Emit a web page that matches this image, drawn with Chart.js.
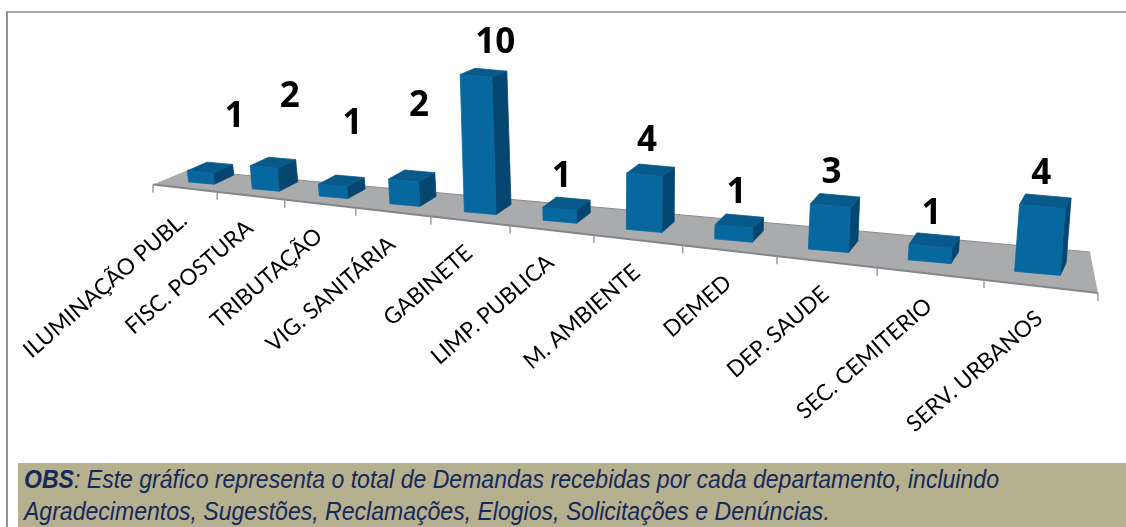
<!DOCTYPE html>
<html>
<head>
<meta charset="utf-8">
<script src="https://cdn.jsdelivr.net/npm/chart.js@4"></script>
<style>
html,body{margin:0;padding:0;background:#fff;width:1126px;height:527px;overflow:hidden}
#wrap{position:relative;width:1126px;height:527px}
#frame{position:absolute;left:6px;top:11px;width:1120px;height:516px;border-left:2px solid #8f9391;border-top:2px solid #a5a8a6;box-sizing:border-box}
canvas{position:absolute;left:0;top:0}
#obs{position:absolute;left:18px;top:463px;width:1108px;height:64px;background:#b5b08e;overflow:hidden}
#obs div{position:absolute;left:6px;top:1px;color:#15295a;font:italic 23.05px/29.7px "Liberation Sans",Arial,sans-serif;white-space:nowrap;transform:scaleY(1.08);transform-origin:0 0}
</style>
</head>
<body>
<div id="wrap">
<div id="frame"></div>
<canvas id="c" width="1126" height="527"></canvas>
<div id="obs"><div><b>OBS</b>: Este gráfico representa o total de Demandas recebidas por cada departamento, incluindo<br>Agradecimentos, Sugestões, Reclamações, Elogios, Solicitações e Denúncias.</div></div>
</div>
<script>
const categories = ["ILUMINAÇÃO PUBL.","FISC. POSTURA","TRIBUTAÇÃO","VIG. SANITÁRIA","GABINETE","LIMP. PUBLICA","M. AMBIENTE","DEMED","DEP. SAUDE","SEC. CEMITERIO","SERV. URBANOS"];
const demandas = [1,2,1,2,10,1,4,1,3,1,4];

// hand-placed data-label nudges of the original (relative to each column)
const labelNudgeX = [33,24,19,14,15,2,3,3,3,2,4];
const labelLift = [46,61,52,65,27,22,25,23,22,21,22];

const K = 0.372;
const warp = d => d / (1 + K * (1 - d));
const FRONT = {x0:153, y0:184.5, x1:1098, y1:293};
const BACK = {x0:188, y0:170, x1:1090, y1:252};
const lerp = (a,b,t) => a + (b-a)*t;
const edge = (E,t) => ({x:lerp(E.x0,E.x1,t), y:lerp(E.y0,E.y1,t)});

class PerspectiveScale extends Chart.CategoryScale {
  getPixelForDecimal(d){ return this._startPixel + this._length * warp(d); }
  _computeLabelArea(){ return undefined; }
  _computeLabelItems(area){
    const items = super._computeLabelItems(area);
    items.forEach(it=>{
      const [x] = it.options.translation;
      const t = (x - this.left)/(this.right - this.left);
      it.textOffset = 0;
      it.options.textAlign = 'right';
      it.options.textBaseline = 'middle';
      it.options.translation = [x + 8, edge(FRONT,t).y + 30];
    });
    return items;
  }
}
PerspectiveScale.id = 'perspective';
PerspectiveScale.defaults = Chart.CategoryScale.defaults;

function columnGeometry(chart, el, i){
  const xs = chart.scales.x, ys = chart.scales.y;
  const n = categories.length;
  const cw = xs.getPixelForDecimal((i+1)/n) - xs.getPixelForDecimal(i/n);
  const t = (el.x - xs.left)/(xs.right - xs.left);
  const f = edge(FRONT,t), b = edge(BACK,t);
  const cx = lerp(f.x,b.x,0.5), by = lerp(f.y,b.y,0.33);
  const unit = Math.abs(ys.getPixelForValue(0)-ys.getPixelForValue(1));
  const value = Math.abs(el.base - el.y)/unit;
  const H = value*(4.4+0.102*cw)*(1+0.01*value);
  const w = 0.4*cw, slope = 0.09;
  const dx = lerp(20,5,t), baseDy = lerp(9,12.5,t);
  const topDy = Math.max(baseDy-0.4*value,3);
  const lean = (cx-620)*0.003*value;
  return {cx,by,H,w,slope,dx,baseDy,topDy,lean};
}

class Column3DController extends Chart.BarController {
  draw(){
    const chart = this.chart, ctx = chart.ctx;
    this._cachedMeta.data.forEach((el,i)=>{
      const g = columnGeometry(chart,el,i);
      const hw = g.w/2, s = g.slope*hw;
      const bl = [g.cx-hw, g.by-s], br = [g.cx+hw, g.by+s];
      const tl = [bl[0]+g.lean, bl[1]-g.H], tr = [br[0]+g.lean, br[1]-g.H];
      const tbl = [tl[0]+g.dx, tl[1]-g.topDy], tbr = [tr[0]+g.dx, tr[1]-g.topDy];
      const bbr = [br[0]+g.dx, br[1]-g.baseDy];
      const poly = (pts,fill)=>{ctx.beginPath();pts.forEach((p,j)=>j?ctx.lineTo(p[0],p[1]):ctx.moveTo(p[0],p[1]));ctx.closePath();ctx.fillStyle=fill;ctx.strokeStyle=fill;ctx.lineWidth=0.8;ctx.fill();ctx.stroke();};
      poly([br,tr,tbr,bbr],'#04466f');
      poly([tl,tr,tbr,tbl],'#085a8a');
      poly([bl,br,tr,tl],'#07689f');
    });
  }
}
Column3DController.id = 'column3d';
Column3DController.defaults = Chart.BarController.defaults;
Column3DController.overrides = Chart.BarController.overrides;
Chart.register(PerspectiveScale, Column3DController);

const floorPlugin = {
  id:'floor',
  beforeDatasetsDraw(chart){
    const ctx = chart.ctx, xs = chart.scales.x, n = categories.length;
    ctx.save();
    ctx.beginPath();
    ctx.moveTo(FRONT.x0,FRONT.y0);ctx.lineTo(BACK.x0,BACK.y0);ctx.lineTo(BACK.x1,BACK.y1);ctx.lineTo(FRONT.x1,FRONT.y1);ctx.closePath();
    ctx.fillStyle='#aaabad';ctx.fill();
    ctx.strokeStyle='#8c8d8f';ctx.lineWidth=1;
    ctx.beginPath();ctx.moveTo(BACK.x0,BACK.y0);ctx.lineTo(BACK.x1,BACK.y1);ctx.stroke();
    ctx.lineWidth=2;ctx.strokeStyle='#85868a';
    ctx.beginPath();ctx.moveTo(FRONT.x0,FRONT.y0);ctx.lineTo(FRONT.x1,FRONT.y1);ctx.stroke();
    ctx.lineWidth=1.5;ctx.strokeStyle='#9a9b9d';
    for(let i=0;i<=n;i++){
      const x = xs.getPixelForDecimal(i/n), t=(x-xs.left)/(xs.right-xs.left), y=edge(FRONT,t).y;
      ctx.beginPath();ctx.moveTo(x,y);ctx.lineTo(x,y+8);ctx.stroke();
    }
    ctx.restore();
  },
  afterDatasetsDraw(chart){
    const ctx = chart.ctx, meta = chart.getDatasetMeta(0);
    ctx.save();
    ctx.fillStyle='#000';ctx.textAlign='center';ctx.textBaseline='middle';
    ctx.font='bold 35px "Open Sans"';
    meta.data.forEach((el,i)=>{
      const g = columnGeometry(chart,el,i);
      const top = g.by - g.H - g.topDy;
      ctx.fillText(String(demandas[i]), g.cx + labelNudgeX[i], top - labelLift[i]);
    });
    ctx.restore();
  }
};

new Chart(document.getElementById('c'),{
  type:'column3d',
  data:{labels:categories,datasets:[{data:demandas,backgroundColor:'#07689f'}]},
  plugins:[floorPlugin],
  options:{
    responsive:false,animation:false,
    layout:{padding:{left:FRONT.x0,right:1126-FRONT.x1,top:20,bottom:0}},
    plugins:{legend:{display:false},tooltip:{enabled:false},title:{display:false}},
    scales:{
      x:{type:'perspective',offset:true,
        grid:{display:false},border:{display:false},
        ticks:{autoSkip:false,minRotation:41,maxRotation:41,color:'#000',font:{family:'Lato',size:22.5}},
        afterFit:s=>{s.height=227;s.paddingLeft=0;s.paddingRight=0;}},
      y:{display:false,min:0,max:12,beginAtZero:true}
    }
  }
});
</script>
</body>
</html>
